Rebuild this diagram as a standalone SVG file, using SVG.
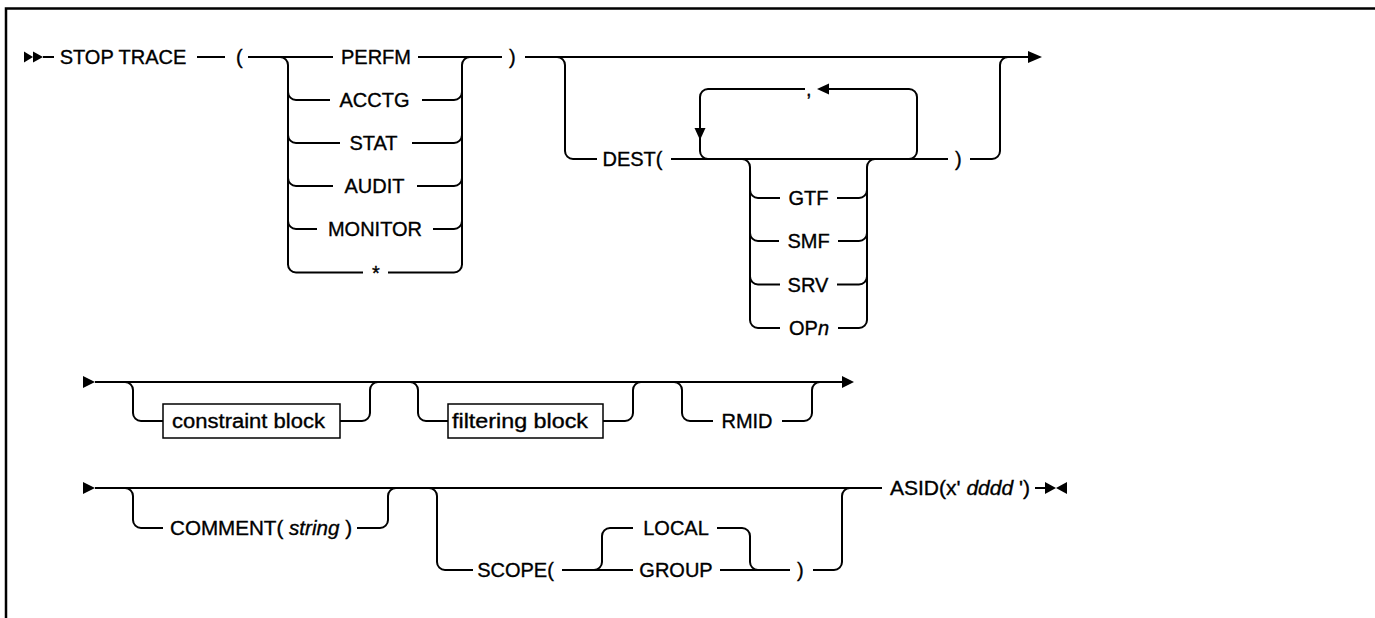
<svg xmlns="http://www.w3.org/2000/svg" width="1375" height="618" viewBox="0 0 1375 618">
<style>
.ln{fill:none;stroke:#000;stroke-width:2}
.ah{fill:#000;stroke:none}
.bx{fill:#fff;stroke:#000;stroke-width:1.5}
text{font-family:"Liberation Sans",Arial,sans-serif;font-size:20px;fill:#000;stroke:#000;stroke-width:0.35}
.m{text-anchor:middle}
.i{font-style:italic}
</style>
<rect width="1375" height="618" fill="#fff"/>
<path d="M6,618 V8.5 H1375" fill="none" stroke="#000" stroke-width="2.5"/>

<g id="connectors">
  <!-- row 1 -->
  <polygon class="ah" points="24,51.5 33,57 24,62.5"/>
  <polygon class="ah" points="33,51.5 43,57 33,62.5"/>
  <path class="ln" d="M43,57 H54"/>
  <path class="ln" d="M197,57 H225"/>
  <path class="ln" d="M248,57 H333"/>
  <path class="ln" d="M280,57 a8,8 0 0 1 8,8 V264.5 a8,8 0 0 0 8,8 H363"/>
  <path class="ln" d="M288,92 a8,8 0 0 0 8,8 H330"/>
  <path class="ln" d="M288,135 a8,8 0 0 0 8,8 H340"/>
  <path class="ln" d="M288,178 a8,8 0 0 0 8,8 H333"/>
  <path class="ln" d="M288,221 a8,8 0 0 0 8,8 H317"/>
  <path class="ln" d="M418,57 H502"/>
  <path class="ln" d="M422,100 H454 a8,8 0 0 0 8,-8"/>
  <path class="ln" d="M412,143 H454 a8,8 0 0 0 8,-8"/>
  <path class="ln" d="M417,186 H454 a8,8 0 0 0 8,-8"/>
  <path class="ln" d="M433,229 H454 a8,8 0 0 0 8,-8"/>
  <path class="ln" d="M388,272.5 H454 a8,8 0 0 0 8,-8 V65 a8,8 0 0 1 8,-8"/>
  <path class="ln" d="M525,57 H1029"/>
  <polygon class="ah" points="1028,51 1042,57 1028,63"/>
  <path class="ln" d="M557,57 a8,8 0 0 1 8,8 V151 a8,8 0 0 0 8,8 H597"/>
  <path class="ln" d="M671,159 H948"/>
  <path class="ln" d="M805,89 H708 a8,8 0 0 0 -8,8 V151 a8,8 0 0 0 8,8"/>
  <polygon class="ah" points="694.5,128 705.5,128 700,140"/>
  <path class="ln" d="M909,159 a8,8 0 0 0 8,-8 V97 a8,8 0 0 0 -8,-8 H828"/>
  <polygon class="ah" points="829,83.5 829,94.5 817,89"/>
  <path class="ln" d="M742,159 a8,8 0 0 1 8,8 V320 a8,8 0 0 0 8,8 H780"/>
  <path class="ln" d="M750,190 a8,8 0 0 0 8,8 H780"/>
  <path class="ln" d="M750,233 a8,8 0 0 0 8,8 H779"/>
  <path class="ln" d="M750,276.5 a8,8 0 0 0 8,8 H780"/>
  <path class="ln" d="M837,198 H859 a8,8 0 0 0 8,-8"/>
  <path class="ln" d="M838,241 H859 a8,8 0 0 0 8,-8"/>
  <path class="ln" d="M837,284.5 H859 a8,8 0 0 0 8,-8"/>
  <path class="ln" d="M838,328 H859 a8,8 0 0 0 8,-8 V167 a8,8 0 0 1 8,-8"/>
  <path class="ln" d="M970,159 H992 a8,8 0 0 0 8,-8 V65 a8,8 0 0 1 8,-8"/>
  <!-- row 2 -->
  <polygon class="ah" points="83,376 95,382 83,388"/>
  <path class="ln" d="M95,382 H843"/>
  <polygon class="ah" points="842,376 854,382 842,388"/>
  <path class="ln" d="M125,382 a8,8 0 0 1 8,8 V413 a8,8 0 0 0 8,8 H163"/>
  <path class="ln" d="M340,421 H362 a8,8 0 0 0 8,-8 V390 a8,8 0 0 1 8,-8"/>
  <path class="ln" d="M410,382 a8,8 0 0 1 8,8 V413 a8,8 0 0 0 8,8 H448"/>
  <path class="ln" d="M603,421 H625 a8,8 0 0 0 8,-8 V390 a8,8 0 0 1 8,-8"/>
  <path class="ln" d="M674,382 a8,8 0 0 1 8,8 V413 a8,8 0 0 0 8,8 H713"/>
  <path class="ln" d="M782,421 H804 a8,8 0 0 0 8,-8 V390 a8,8 0 0 1 8,-8"/>
  <!-- row 3 -->
  <polygon class="ah" points="83,482 95,488 83,494"/>
  <path class="ln" d="M95,488 H882"/>
  <path class="ln" d="M125,488 a8,8 0 0 1 8,8 V520 a8,8 0 0 0 8,8 H163"/>
  <path class="ln" d="M357,528 H380 a8,8 0 0 0 8,-8 V496 a8,8 0 0 1 8,-8"/>
  <path class="ln" d="M429,488 a8,8 0 0 1 8,8 V562 a8,8 0 0 0 8,8 H473"/>
  <path class="ln" d="M562,570 H633"/>
  <path class="ln" d="M594,570 a8,8 0 0 0 8,-8 V536 a8,8 0 0 1 8,-8 H633"/>
  <path class="ln" d="M717,528 H742 a8,8 0 0 1 8,8 V562 a8,8 0 0 0 8,8"/>
  <path class="ln" d="M720,570 H790"/>
  <path class="ln" d="M813,570 H834 a8,8 0 0 0 8,-8 V496 a8,8 0 0 1 8,-8"/>
  <path class="ln" d="M1035,488 H1046"/>
  <polygon class="ah" points="1045,482 1056,488 1045,494"/>
  <polygon class="ah" points="1067,482 1056,488 1067,494"/>
</g>

<g id="n-stop"><text x="123" y="64" class="m">STOP TRACE</text></g>
<g id="n-lparen"><text x="236" y="64">(</text></g>
<g id="n-perfm"><text x="376" y="64" class="m">PERFM</text></g>
<g id="n-acctg"><text x="374.5" y="107" class="m">ACCTG</text></g>
<g id="n-stat"><text x="373.5" y="150" class="m">STAT</text></g>
<g id="n-audit"><text x="374.5" y="193" class="m">AUDIT</text></g>
<g id="n-monitor"><text x="375" y="236" class="m">MONITOR</text></g>
<g id="n-star"><text x="376" y="279.5" class="m">*</text></g>
<g id="n-rparen"><text x="509" y="64">)</text></g>
<g id="n-dest"><text x="632.5" y="166" class="m">DEST(</text></g>
<g id="n-comma"><text x="806" y="96">,</text></g>
<g id="n-gtf"><text x="808.5" y="205" class="m">GTF</text></g>
<g id="n-smf"><text x="808.5" y="248" class="m">SMF</text></g>
<g id="n-srv"><text x="808" y="291.5" class="m">SRV</text></g>
<g id="n-opn"><text x="809" y="335" class="m">OP<tspan class="i">n</tspan></text></g>
<g id="n-rparen2"><text x="955" y="166">)</text></g>
<g id="n-constraint"><rect class="bx" x="163" y="404" width="177" height="34"/><text x="172" y="428" textLength="153" lengthAdjust="spacingAndGlyphs">constraint block</text></g>
<g id="n-filtering"><rect class="bx" x="448" y="404" width="155" height="34"/><text x="452" y="428" textLength="136" lengthAdjust="spacingAndGlyphs">filtering block</text></g>
<g id="n-rmid"><text x="747" y="428" class="m">RMID</text></g>
<g id="n-comment"><text x="170" y="535" textLength="182" lengthAdjust="spacingAndGlyphs">COMMENT( <tspan class="i">string</tspan> )</text></g>
<g id="n-scope"><text x="515.5" y="577" class="m">SCOPE(</text></g>
<g id="n-local"><text x="676" y="535" class="m">LOCAL</text></g>
<g id="n-group"><text x="676" y="577" class="m">GROUP</text></g>
<g id="n-rparen3"><text x="797" y="577">)</text></g>
<g id="n-asid"><text x="890" y="495" textLength="140" lengthAdjust="spacingAndGlyphs">ASID(x' <tspan class="i">dddd</tspan> ')</text></g>
</svg>
